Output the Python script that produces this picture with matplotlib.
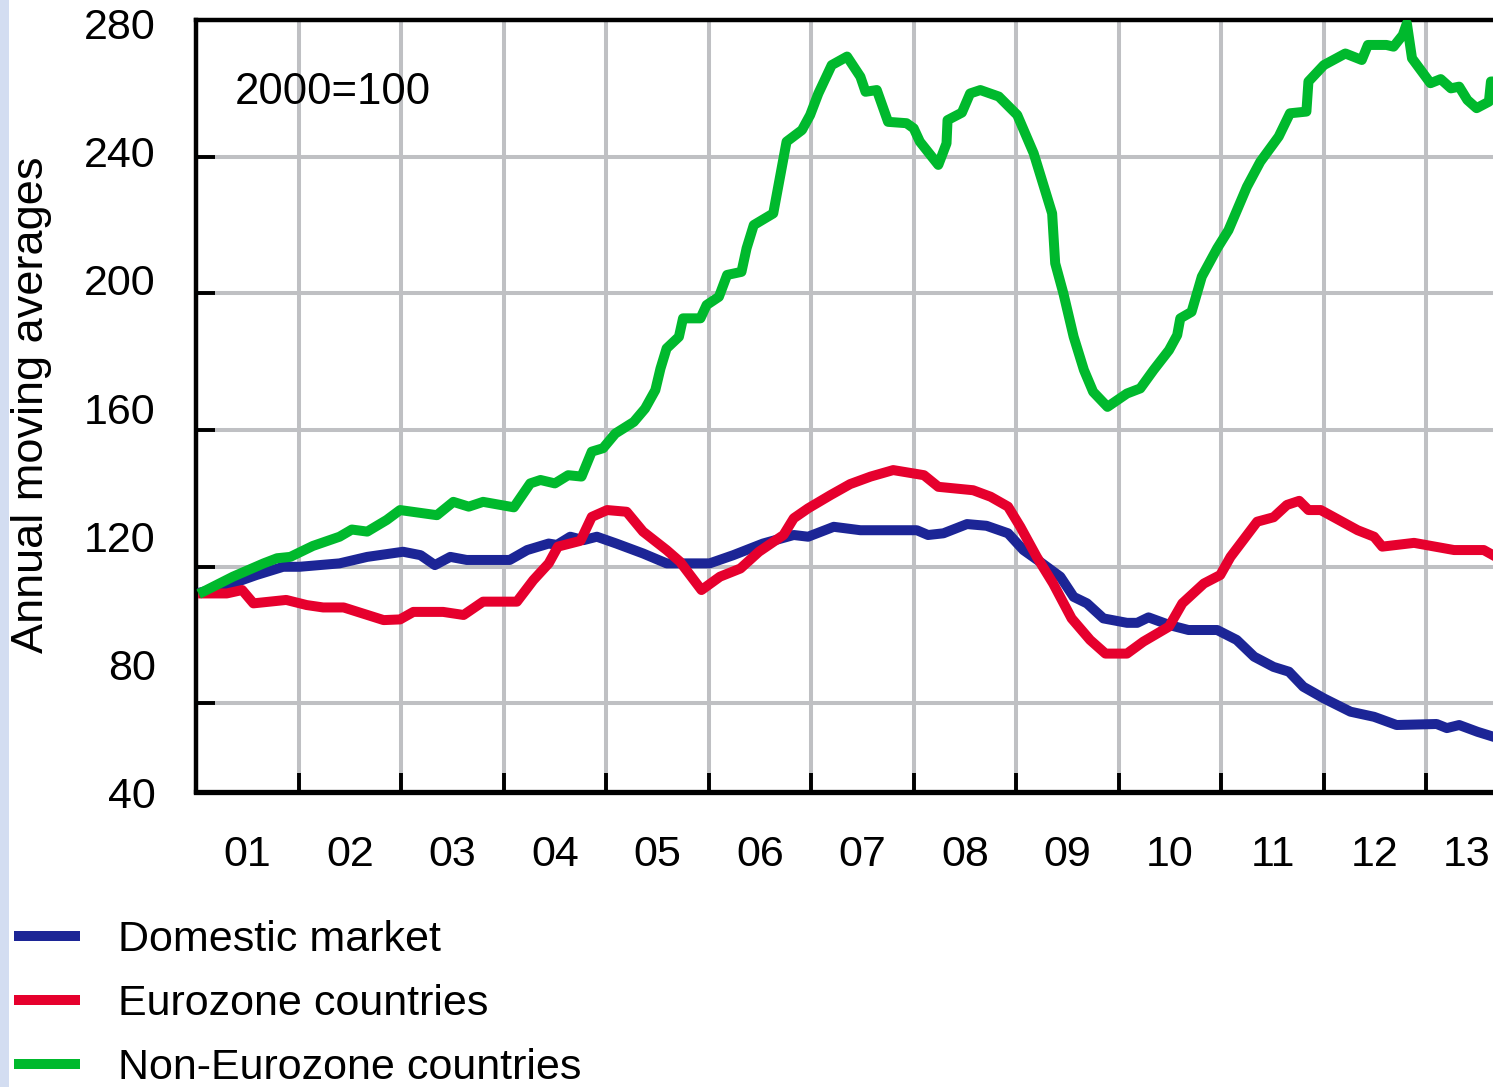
"""Annual moving averages by market, 2000=100."""

import matplotlib

matplotlib.use("Agg")
import matplotlib.pyplot as plt
from matplotlib.patches import Rectangle

plt.rcParams["font.family"] = ["Liberation Sans", "DejaVu Sans"]

# time in decimal years, values as index (2000=100)
dom_t = [2001.07, 2001.27, 2001.59, 2001.85, 2002.01, 2002.40, 2002.67, 2003.02, 2003.19,
         2003.33, 2003.48, 2003.64, 2004.06, 2004.23, 2004.44, 2004.52, 2004.65, 2004.78,
         2004.91, 2005.10, 2005.36, 2005.59, 2006.01, 2006.24, 2006.53, 2006.83, 2006.97,
         2007.22, 2007.48, 2008.03, 2008.14, 2008.29, 2008.52, 2008.71, 2008.92, 2009.07,
         2009.23, 2009.43, 2009.56, 2009.69, 2009.85, 2010.08, 2010.18, 2010.29, 2010.50,
         2010.68, 2010.96, 2011.15, 2011.32, 2011.51, 2011.66, 2011.80, 2012.00, 2012.26,
         2012.49, 2012.71, 2013.10, 2013.20, 2013.32, 2013.50, 2013.65]
dom_v = [112.7, 114.2, 117.6, 120.0, 120.0, 121.0, 122.9, 124.4, 123.4,
         120.5, 122.9, 122.0, 122.0, 124.9, 126.8, 126.4, 128.8, 127.8,
         128.8, 126.8, 123.9, 121.0, 121.0, 123.4, 126.8, 129.3, 128.8,
         131.7, 130.7, 130.7, 129.3, 129.8, 132.5, 132.0, 129.8, 124.9,
         121.5, 117.1, 111.2, 109.3, 104.9, 103.6, 103.6, 105.2, 102.9,
         101.5, 101.5, 98.6, 93.7, 90.7, 89.3, 84.9, 81.5, 77.6,
         76.1, 73.7, 74.0, 72.8, 73.7, 71.7, 70.3]

euro_t = [2001.07, 2001.30, 2001.45, 2001.56, 2001.88, 2002.08, 2002.24, 2002.44, 2002.83,
          2002.99, 2003.12, 2003.41, 2003.61, 2003.80, 2004.13, 2004.29, 2004.44, 2004.53,
          2004.75, 2004.86, 2005.01, 2005.20, 2005.36, 2005.59, 2005.72, 2005.93, 2006.11,
          2006.31, 2006.49, 2006.73, 2006.83, 2006.97, 2007.19, 2007.38, 2007.58, 2007.80,
          2008.10, 2008.24, 2008.58, 2008.75, 2008.92, 2009.04, 2009.20, 2009.36, 2009.54,
          2009.72, 2009.87, 2010.08, 2010.24, 2010.49, 2010.62, 2010.83, 2010.99, 2011.09,
          2011.35, 2011.51, 2011.64, 2011.76, 2011.85, 2011.97, 2012.33, 2012.49, 2012.57,
          2012.88, 2013.27, 2013.56, 2013.65]
euro_v = [112.2, 112.2, 113.2, 109.3, 110.3, 108.8, 108.1, 108.1, 104.4,
          104.6, 106.8, 106.8, 105.9, 109.8, 109.8, 116.1, 121.0, 125.9,
          127.6, 134.6, 136.6, 136.1, 130.3, 124.9, 121.5, 113.2, 117.1,
          119.5, 124.4, 129.3, 134.2, 137.1, 141.0, 144.2, 146.4, 148.3,
          146.8, 143.4, 142.4, 140.5, 137.6, 131.7, 122.9, 115.1, 104.9,
          98.6, 94.6, 94.6, 98.1, 102.5, 109.3, 115.1, 117.6, 122.9,
          133.2, 134.5, 138.1, 139.3, 136.6, 136.6, 130.7, 128.8, 125.9,
          127.0, 124.9, 124.9, 123.4]

non_t = [2001.07, 2001.36, 2001.66, 2001.79, 2001.92, 2002.14, 2002.40, 2002.52, 2002.67,
         2002.86, 2002.99, 2003.35, 2003.51, 2003.66, 2003.80, 2004.10, 2004.26, 2004.36,
         2004.50, 2004.63, 2004.76, 2004.86, 2004.97, 2005.09, 2005.27, 2005.38, 2005.48,
         2005.53, 2005.59, 2005.71, 2005.75, 2005.92, 2005.98, 2006.10, 2006.18, 2006.32,
         2006.37, 2006.44, 2006.63, 2006.76, 2006.91, 2006.99, 2007.07, 2007.20, 2007.35,
         2007.48, 2007.53, 2007.64, 2007.75, 2007.93, 2008.00, 2008.06, 2008.24, 2008.32,
         2008.33, 2008.47, 2008.55, 2008.65, 2008.83, 2009.01, 2009.17, 2009.30, 2009.35,
         2009.38, 2009.46, 2009.56, 2009.66, 2009.75, 2009.89, 2010.08, 2010.21, 2010.34,
         2010.49, 2010.57, 2010.60, 2010.71, 2010.81, 2010.96, 2011.07, 2011.25, 2011.38,
         2011.56, 2011.67, 2011.83, 2011.85, 2012.00, 2012.21, 2012.37, 2012.43, 2012.61,
         2012.68, 2012.77, 2012.81, 2012.86, 2013.04, 2013.14, 2013.24, 2013.32, 2013.40,
         2013.49, 2013.61, 2013.63, 2013.65]
non_v = [112.7, 117.1, 121.0, 122.5, 122.9, 126.1, 128.8, 130.9, 130.3,
         133.7, 136.6, 135.1, 139.0, 137.6, 139.0, 137.4, 144.4, 145.4,
         144.4, 146.8, 146.4, 153.7, 154.7, 159.0, 162.4, 166.3, 171.7,
         178.0, 183.9, 187.3, 192.7, 192.7, 196.6, 199.0, 205.4, 206.3,
         213.2, 220.0, 223.4, 244.4, 247.8, 252.2, 258.5, 266.8, 269.3,
         263.4, 259.0, 259.5, 250.2, 249.8, 248.3, 244.4, 237.6, 243.9,
         250.7, 252.9, 258.5, 259.5, 257.6, 252.2, 241.0, 228.3, 223.4,
         208.8, 200.0, 187.3, 177.6, 171.2, 166.8, 170.7, 172.2, 177.6,
         183.4, 187.8, 192.7, 194.6, 204.9, 213.2, 218.5, 231.2, 238.5,
         245.9, 252.7, 253.2, 262.0, 266.8, 270.2, 268.3, 272.7, 272.7,
         272.2, 275.6, 279.0, 268.8, 261.5, 262.7, 260.0, 260.5, 256.6,
         254.2, 256.1, 262.0, 262.0]

series = [
    ("Domestic market", dom_t, dom_v, "#1c2596"),
    ("Eurozone countries", euro_t, euro_v, "#e6002d"),
    ("Non-Eurozone countries", non_t, non_v, "#00b92d"),
]

year_labels = ["01", "02", "03", "04", "05", "06", "07", "08", "09", "10", "11", "12", "13"]
grid_vals = [80, 120, 160, 200, 240]
ytick_labels = [40, 80, 120, 160, 200, 240, 280]

W, H = 1493, 1087
XMAX = 2013.65
fig = plt.figure(figsize=(W / 100, H / 100), dpi=100)
fig.add_artist(Rectangle((0, 0), 9 / W, 1, transform=fig.transFigure,
                         color="#d3ddf1", lw=0))

ax = fig.add_axes([196 / W, 1 - 792 / H, 1 - 196 / W, (792 - 20) / H])
for label, t, v, col in series:
    ax.plot(t, v, color=col, lw=7.2, solid_joinstyle="round", label=label, zorder=3)

ax.set_xlim(2001.0, XMAX)
ax.set_ylim(54.1, 280.0)

# gridlines + inward ticks at year boundaries; year labels centred in each year
# (the last one is pulled in so it stays inside the cropped edge)
label_pos = [min(2001.5 + i, XMAX - 0.26) for i in range(len(year_labels))]
ax.set_xticks(range(2002, 2014))
ax.set_xticklabels([])
ax.set_xticks(label_pos, minor=True)
ax.set_xticklabels(year_labels, minor=True, fontsize=31)
ax.set_yticks(grid_vals)
ax.set_yticklabels([])
ax.tick_params(axis="x", which="major", direction="in", length=14, width=2.8, color="black")
ax.tick_params(axis="y", which="major", direction="in", length=13.5, width=2.8, color="black")
ax.tick_params(axis="x", which="minor", length=0, pad=31)
ax.grid(True, which="major", color="#bfc0c3", lw=2.9)
ax.set_axisbelow(True)

for side in ("left", "bottom", "top"):
    ax.spines[side].set_linewidth(3.2)
ax.spines["bottom"].set_linewidth(3.8)
ax.spines["right"].set_visible(False)

# y labels sit on their own (slightly compressed) scale in the original
for val in ytick_labels:
    pos = 52.6 + (val - 40) * 0.9378
    ax.text(-0.031, pos, str(val), transform=ax.get_yaxis_transform(),
            ha="right", va="center", fontsize=31, clip_on=False)

ax.text(0.1056, 0.906, "2000=100", transform=ax.transAxes, ha="center", va="center",
        fontsize=31.5)
fig.text(32 / W, 1 - 405 / H, "Annual moving averages", rotation=90,
         ha="center", va="center", fontsize=32.5)

handles, labels = ax.get_legend_handles_labels()
fig.legend(handles, labels, loc="upper left", bbox_to_anchor=(19 / W, 1 - 920 / H),
           frameon=False, fontsize=31, handlelength=1.3, handletextpad=1.0,
           labelspacing=0.56, borderpad=0, borderaxespad=0)

fig.savefig("out.png", dpi=100)
